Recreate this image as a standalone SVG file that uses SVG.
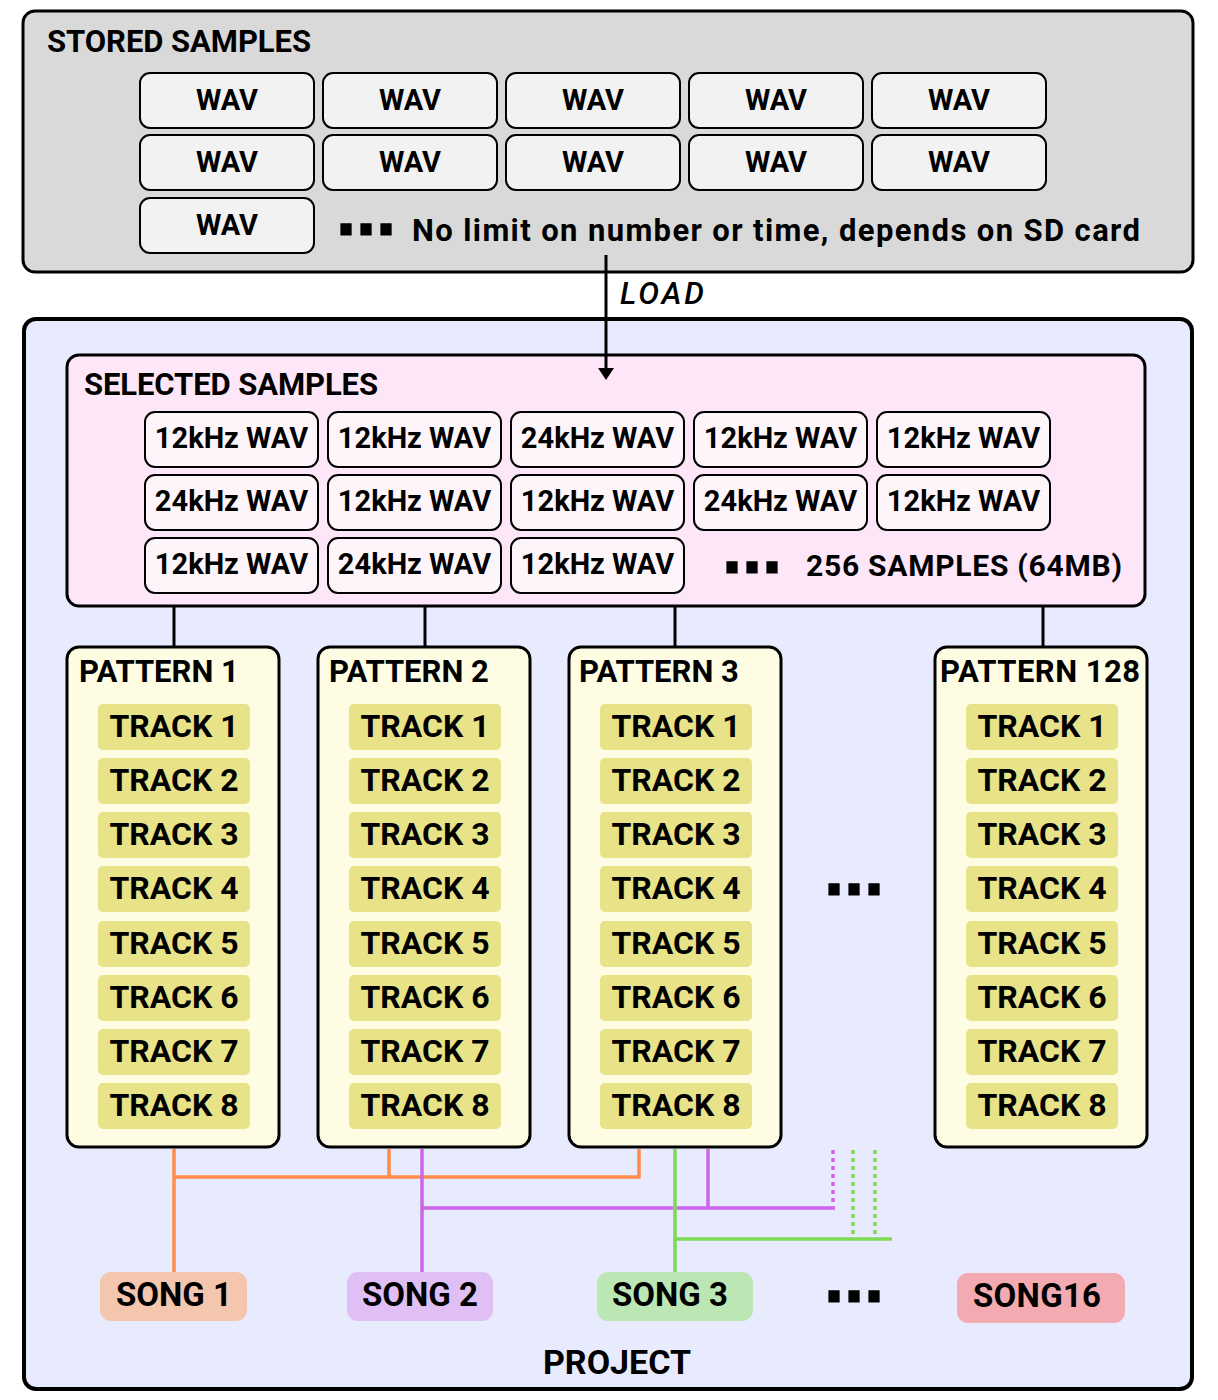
<svg xmlns="http://www.w3.org/2000/svg" width="1218" height="1400" viewBox="0 0 1218 1400">
<defs>
<style>
.t{font-family:Roboto,"Liberation Sans",sans-serif;font-weight:700;fill:#000}
.c{text-anchor:middle}
.dots{font-family:"DejaVu Sans",sans-serif;font-weight:700;font-size:58px;letter-spacing:-2px;fill:#000;stroke:#000;stroke-width:1;stroke-linejoin:miter}
.wav{fill:#f2f2f2;stroke:#000;stroke-width:2}
.khz{fill:#fef5fb;stroke:#000;stroke-width:2}
.pat{fill:#fefde4;stroke:#000;stroke-width:3}
.trk{fill:#e8e388}
.lbl{font-size:29px}
.tk{font-size:32px}
.conn{stroke:#000;stroke-width:3;fill:none}
.or{stroke:#ff8c4b;stroke-width:3.5;fill:none}
.pu{stroke:#cc66e6;stroke-width:3.5;fill:none}
.gr{stroke:#7ed957;stroke-width:3.5;fill:none}
.dot{stroke-dasharray:4 4}
</style>
<marker id="arr" viewBox="0 0 12 16" refX="2" refY="8" markerWidth="12" markerHeight="16" markerUnits="userSpaceOnUse" orient="auto">
<path d="M0,0 L12,8 L0,16 Z" fill="#000"/>
</marker>
</defs>
<rect width="1218" height="1400" fill="#fff"/>

<g id="stored">
<rect x="23" y="11" width="1170" height="261" rx="12" fill="#d9d9d9" stroke="#000" stroke-width="3"/>
<text class="t" x="47" y="52" font-size="31" textLength="264">STORED SAMPLES</text>
<g id="stored-wavs">
<rect class="wav" x="140" y="73" width="174" height="55" rx="10"/><text class="t c lbl" x="227" y="110">WAV</text>
<rect class="wav" x="323" y="73" width="174" height="55" rx="10"/><text class="t c lbl" x="410" y="110">WAV</text>
<rect class="wav" x="506" y="73" width="174" height="55" rx="10"/><text class="t c lbl" x="593" y="110">WAV</text>
<rect class="wav" x="689" y="73" width="174" height="55" rx="10"/><text class="t c lbl" x="776" y="110">WAV</text>
<rect class="wav" x="872" y="73" width="174" height="55" rx="10"/><text class="t c lbl" x="959" y="110">WAV</text>
<rect class="wav" x="140" y="135" width="174" height="55" rx="10"/><text class="t c lbl" x="227" y="172">WAV</text>
<rect class="wav" x="323" y="135" width="174" height="55" rx="10"/><text class="t c lbl" x="410" y="172">WAV</text>
<rect class="wav" x="506" y="135" width="174" height="55" rx="10"/><text class="t c lbl" x="593" y="172">WAV</text>
<rect class="wav" x="689" y="135" width="174" height="55" rx="10"/><text class="t c lbl" x="776" y="172">WAV</text>
<rect class="wav" x="872" y="135" width="174" height="55" rx="10"/><text class="t c lbl" x="959" y="172">WAV</text>
<rect class="wav" x="140" y="198" width="174" height="55" rx="10"/><text class="t c lbl" x="227" y="235">WAV</text>
</g>
<text class="dots" x="335" y="235">...</text>
<text class="t" x="412" y="241" font-size="31" textLength="728">No limit on number or time, depends on SD card</text>
</g>

<g id="project">
<rect x="24" y="319" width="1168" height="1070" rx="12" fill="#e8ebfd" stroke="#000" stroke-width="4"/>
<text class="t c" x="617" y="1374" font-size="34">PROJECT</text>
</g>

<g id="selected">
<rect x="67" y="355" width="1078" height="251" rx="12" fill="#fde6f7" stroke="#000" stroke-width="3"/>
<text class="t" x="84" y="395" font-size="31" textLength="294">SELECTED SAMPLES</text>
<g id="selected-wavs">
<rect class="khz" x="145" y="412" width="173" height="55" rx="10"/><text class="t c lbl" x="231.5" y="448">12kHz WAV</text>
<rect class="khz" x="328" y="412" width="173" height="55" rx="10"/><text class="t c lbl" x="414.5" y="448">12kHz WAV</text>
<rect class="khz" x="511" y="412" width="173" height="55" rx="10"/><text class="t c lbl" x="597.5" y="448">24kHz WAV</text>
<rect class="khz" x="694" y="412" width="173" height="55" rx="10"/><text class="t c lbl" x="780.5" y="448">12kHz WAV</text>
<rect class="khz" x="877" y="412" width="173" height="55" rx="10"/><text class="t c lbl" x="963.5" y="448">12kHz WAV</text>
<rect class="khz" x="145" y="475" width="173" height="55" rx="10"/><text class="t c lbl" x="231.5" y="511">24kHz WAV</text>
<rect class="khz" x="328" y="475" width="173" height="55" rx="10"/><text class="t c lbl" x="414.5" y="511">12kHz WAV</text>
<rect class="khz" x="511" y="475" width="173" height="55" rx="10"/><text class="t c lbl" x="597.5" y="511">12kHz WAV</text>
<rect class="khz" x="694" y="475" width="173" height="55" rx="10"/><text class="t c lbl" x="780.5" y="511">24kHz WAV</text>
<rect class="khz" x="877" y="475" width="173" height="55" rx="10"/><text class="t c lbl" x="963.5" y="511">12kHz WAV</text>
<rect class="khz" x="145" y="538" width="173" height="55" rx="10"/><text class="t c lbl" x="231.5" y="574">12kHz WAV</text>
<rect class="khz" x="328" y="538" width="173" height="55" rx="10"/><text class="t c lbl" x="414.5" y="574">24kHz WAV</text>
<rect class="khz" x="511" y="538" width="173" height="55" rx="10"/><text class="t c lbl" x="597.5" y="574">12kHz WAV</text>
</g>
<text class="dots" x="721" y="573">...</text>
<text class="t" x="806" y="576" font-size="30" textLength="316">256 SAMPLES (64MB)</text>
</g>

<g id="load-label">
<text x="620" y="304" font-family="Roboto,'Liberation Sans',sans-serif" font-style="italic" font-weight="500" font-size="31" textLength="84">LOAD</text>
</g>

<g id="pattern1">
<rect class="pat" x="67" y="647" width="212" height="500" rx="12"/>
<text class="t" x="79" y="682" font-size="31">PATTERN 1</text>
<rect class="trk" x="98" y="704" width="152" height="46" rx="5"/><text class="t c tk" x="174" y="737">TRACK 1</text>
<rect class="trk" x="98" y="758" width="152" height="46" rx="5"/><text class="t c tk" x="174" y="791">TRACK 2</text>
<rect class="trk" x="98" y="812" width="152" height="46" rx="5"/><text class="t c tk" x="174" y="845">TRACK 3</text>
<rect class="trk" x="98" y="866" width="152" height="46" rx="5"/><text class="t c tk" x="174" y="899">TRACK 4</text>
<rect class="trk" x="98" y="921" width="152" height="46" rx="5"/><text class="t c tk" x="174" y="954">TRACK 5</text>
<rect class="trk" x="98" y="975" width="152" height="46" rx="5"/><text class="t c tk" x="174" y="1008">TRACK 6</text>
<rect class="trk" x="98" y="1029" width="152" height="46" rx="5"/><text class="t c tk" x="174" y="1062">TRACK 7</text>
<rect class="trk" x="98" y="1083" width="152" height="46" rx="5"/><text class="t c tk" x="174" y="1116">TRACK 8</text>
</g>

<g id="pattern2">
<rect class="pat" x="318" y="647" width="212" height="500" rx="12"/>
<text class="t" x="329" y="682" font-size="31">PATTERN 2</text>
<rect class="trk" x="349" y="704" width="152" height="46" rx="5"/><text class="t c tk" x="425" y="737">TRACK 1</text>
<rect class="trk" x="349" y="758" width="152" height="46" rx="5"/><text class="t c tk" x="425" y="791">TRACK 2</text>
<rect class="trk" x="349" y="812" width="152" height="46" rx="5"/><text class="t c tk" x="425" y="845">TRACK 3</text>
<rect class="trk" x="349" y="866" width="152" height="46" rx="5"/><text class="t c tk" x="425" y="899">TRACK 4</text>
<rect class="trk" x="349" y="921" width="152" height="46" rx="5"/><text class="t c tk" x="425" y="954">TRACK 5</text>
<rect class="trk" x="349" y="975" width="152" height="46" rx="5"/><text class="t c tk" x="425" y="1008">TRACK 6</text>
<rect class="trk" x="349" y="1029" width="152" height="46" rx="5"/><text class="t c tk" x="425" y="1062">TRACK 7</text>
<rect class="trk" x="349" y="1083" width="152" height="46" rx="5"/><text class="t c tk" x="425" y="1116">TRACK 8</text>
</g>

<g id="pattern3">
<rect class="pat" x="569" y="647" width="212" height="500" rx="12"/>
<text class="t" x="579" y="682" font-size="31">PATTERN 3</text>
<rect class="trk" x="600" y="704" width="152" height="46" rx="5"/><text class="t c tk" x="676" y="737">TRACK 1</text>
<rect class="trk" x="600" y="758" width="152" height="46" rx="5"/><text class="t c tk" x="676" y="791">TRACK 2</text>
<rect class="trk" x="600" y="812" width="152" height="46" rx="5"/><text class="t c tk" x="676" y="845">TRACK 3</text>
<rect class="trk" x="600" y="866" width="152" height="46" rx="5"/><text class="t c tk" x="676" y="899">TRACK 4</text>
<rect class="trk" x="600" y="921" width="152" height="46" rx="5"/><text class="t c tk" x="676" y="954">TRACK 5</text>
<rect class="trk" x="600" y="975" width="152" height="46" rx="5"/><text class="t c tk" x="676" y="1008">TRACK 6</text>
<rect class="trk" x="600" y="1029" width="152" height="46" rx="5"/><text class="t c tk" x="676" y="1062">TRACK 7</text>
<rect class="trk" x="600" y="1083" width="152" height="46" rx="5"/><text class="t c tk" x="676" y="1116">TRACK 8</text>
</g>

<g id="pattern-dots">
<text class="dots" x="823" y="895">...</text>
</g>

<g id="pattern128">
<rect class="pat" x="935" y="647" width="212" height="500" rx="12"/>
<text class="t" x="940" y="682" font-size="31" textLength="200">PATTERN 128</text>
<rect class="trk" x="966" y="704" width="152" height="46" rx="5"/><text class="t c tk" x="1042" y="737">TRACK 1</text>
<rect class="trk" x="966" y="758" width="152" height="46" rx="5"/><text class="t c tk" x="1042" y="791">TRACK 2</text>
<rect class="trk" x="966" y="812" width="152" height="46" rx="5"/><text class="t c tk" x="1042" y="845">TRACK 3</text>
<rect class="trk" x="966" y="866" width="152" height="46" rx="5"/><text class="t c tk" x="1042" y="899">TRACK 4</text>
<rect class="trk" x="966" y="921" width="152" height="46" rx="5"/><text class="t c tk" x="1042" y="954">TRACK 5</text>
<rect class="trk" x="966" y="975" width="152" height="46" rx="5"/><text class="t c tk" x="1042" y="1008">TRACK 6</text>
<rect class="trk" x="966" y="1029" width="152" height="46" rx="5"/><text class="t c tk" x="1042" y="1062">TRACK 7</text>
<rect class="trk" x="966" y="1083" width="152" height="46" rx="5"/><text class="t c tk" x="1042" y="1116">TRACK 8</text>
</g>

<g id="song1">
<rect x="100" y="1272" width="147" height="49" rx="11" fill="#f4c6ad"/>
<text class="t c" x="174" y="1306" font-size="33">SONG 1</text>
</g>
<g id="song2">
<rect x="347" y="1272" width="146" height="49" rx="11" fill="#dfbff4"/>
<text class="t c" x="420" y="1306" font-size="33">SONG 2</text>
</g>
<g id="song3">
<rect x="597" y="1272" width="156" height="49" rx="11" fill="#bce6b4"/>
<text class="t c" x="670" y="1306" font-size="33">SONG 3</text>
</g>
<g id="song-dots">
<text class="dots" x="823" y="1302">...</text>
</g>
<g id="song16">
<rect x="957" y="1273" width="168" height="50" rx="11" fill="#f3aab1"/>
<text class="t" x="973" y="1307" font-size="33" textLength="128">SONG16</text>
</g>

<g id="connectors">
<line class="conn" x1="606" y1="255" x2="606" y2="370" marker-end="url(#arr)"/>
<line class="conn" x1="174" y1="606" x2="174" y2="647"/>
<line class="conn" x1="425" y1="606" x2="425" y2="647"/>
<line class="conn" x1="675" y1="606" x2="675" y2="647"/>
<line class="conn" x1="1043" y1="606" x2="1043" y2="647"/>
<path class="or" d="M174,1149 V1272 M174,1177 H639 V1149 M389,1149 V1177"/>
<path class="pu" d="M422,1149 V1272 M422,1208 H835 M708,1149 V1208"/>
<path class="pu dot" d="M833,1150 V1204"/>
<path class="gr" d="M675,1149 V1272 M675,1239 H892"/>
<path class="gr dot" d="M853,1150 V1235 M875,1150 V1235"/>
</g>
</svg>
